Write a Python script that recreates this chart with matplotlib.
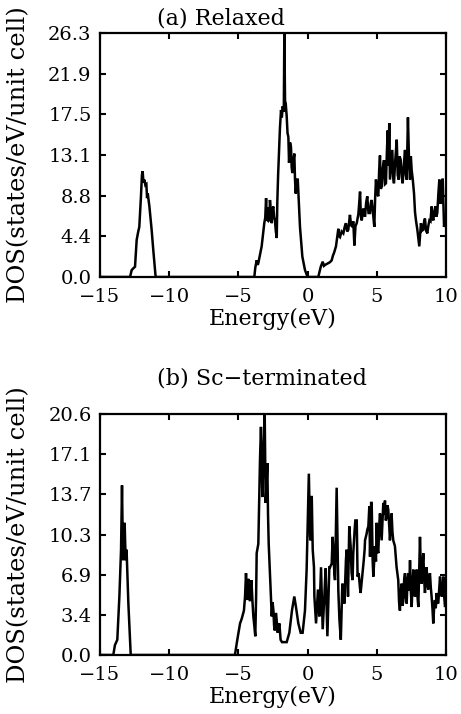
import matplotlib
matplotlib.use("Agg")
import matplotlib.pyplot as plt
import numpy as np

# ---------------- data ----------------
titles = ["(a) Relaxed", "(b) Sc\u2212terminated"]
xticks = [-15, -10, -5, 0, 5, 10]
ymax_a = 26.3
ymax_b = 20.6
ytick_labels_a = ["0.0", "4.4", "8.8", "13.1", "17.5", "21.9", "26.3"]
ytick_labels_b = ["0.0", "3.4", "6.9", "10.3", "13.7", "17.1", "20.6"]

energy_a = [-15, -12.83, -12.71, -12.55, -12.47, -12.35, -12.25, -12.16, -12.04, -11.97, -11.92,
            -11.86, -11.80, -11.72, -11.65, -11.60, -11.55, -11.43, -11.27, -11.15, -10.98,
            -3.85, -3.78, -3.68, -3.60, -3.56, -3.32, -3.13, -3.06, -3.00, -2.95, -2.88, -2.82,
            -2.76, -2.72, -2.65, -2.59, -2.54, -2.48, -2.42, -2.36, -2.30, -2.23, -2.19, -2.13,
            -2.07, -2.00, -1.92, -1.86, -1.80, -1.72, -1.68, -1.63, -1.58, -1.51, -1.45, -1.39,
            -1.34, -1.27, -1.20, -1.15, -1.10, -1.03, -0.96, -0.91, -0.86, -0.78, -0.71, -0.62,
            -0.55, -0.45, -0.38, -0.19, 0.00,
            0.77, 0.95, 1.09, 1.18, 1.26, 1.38, 1.50, 1.62, 1.74, 1.83, 1.91, 2.05, 2.13, 2.22,
            2.28, 2.34, 2.46, 2.58, 2.68, 2.77, 2.86, 2.94, 3.06, 3.14, 3.23, 3.30, 3.38, 3.46,
            3.55, 3.67, 3.79, 3.85, 3.91, 4.03, 4.15, 4.23, 4.31, 4.40, 4.51, 4.57, 4.63, 4.72,
            4.82, 4.88, 4.94, 5.02, 5.11, 5.17, 5.23, 5.29, 5.35, 5.44, 5.52, 5.59, 5.66, 5.73,
            5.79, 5.85, 5.90, 5.95, 6.03, 6.12, 6.18, 6.24, 6.33, 6.44, 6.51, 6.58, 6.65, 6.73,
            6.80, 6.87, 6.95, 7.04, 7.10, 7.16, 7.25, 7.33, 7.40, 7.46, 7.52, 7.60, 7.69, 7.76,
            7.83, 7.93, 8.00, 8.07, 8.13, 8.19, 8.27, 8.36, 8.42, 8.48, 8.56, 8.65, 8.72, 8.80,
            8.88, 8.96, 9.02, 9.08, 9.15, 9.23, 9.30, 9.37, 9.45, 9.52, 9.58, 9.64, 9.70, 9.76,
            9.81, 9.86, 9.93, 10.0]
dos_a = [0, 0, 0.75, 1.0, 1.1, 4.0, 4.8, 5.4, 8.7, 11.0, 11.4,
         10.2, 10.5, 9.9, 10.0, 8.5, 9.0, 7.6, 5.1, 2.9, 0,
         0, 1.0, 1.8, 1.3, 1.5, 3.3, 5.8, 6.4, 8.5, 6.2, 6.1, 7.5,
         6.0, 8.3, 6.9, 5.8, 7.2, 7.6, 6.5, 6.1, 5.0, 4.2, 8.0, 11.0,
         13.3, 16.0, 18.0, 17.2, 18.4, 17.8, 26.3, 19.0, 18.7, 17.3, 15.5, 15.1,
         12.3, 14.5, 14.0, 11.8, 11.2, 12.5, 13.3, 10.5, 9.0, 10.5, 10.5, 7.5,
         5.4, 3.5, 2.2, 0.75, 0,
         0, 1.1, 1.65, 1.2, 1.3, 1.4, 1.5, 1.6, 1.8, 2.3, 2.6, 3.3, 4.2, 5.2,
         4.4, 4.3, 4.9, 4.7, 5.4, 5.8, 4.9, 5.1, 6.7, 5.6, 5.4, 6.0, 3.4, 5.5,
         5.8, 6.8, 9.2, 6.5, 6.1, 7.4, 6.5, 8.0, 8.7, 6.9, 6.9, 8.0, 8.3, 7.0,
         5.4, 8.5, 10.5, 9.0, 8.7, 11.5, 13.1, 9.5, 9.7, 11.8, 12.6, 10.0, 10.1, 13.5,
         15.8, 12.0, 16.6, 10.5, 12.0, 13.7, 10.8, 10.1, 12.5, 14.8, 11.0, 10.5, 13.0, 12.6,
         10.8, 10.1, 12.0, 13.7, 11.0, 10.5, 17.2, 12.5, 10.5, 13.0, 11.5, 10.5, 9.0, 7.0,
         6.1, 5.1, 4.2, 3.3, 4.5, 5.8, 5.0, 5.1, 6.0, 6.3, 5.0, 4.7, 5.5, 6.1,
         6.0, 7.6, 6.5, 6.1, 7.0, 7.6, 6.5, 6.9, 9.0, 10.5, 8.0, 8.0, 9.5, 10.6,
         8.0, 5.4, 6.5, 5.4]

energy_b = [-15, -14.04, -13.92, -13.75, -13.60, -13.48, -13.41, -13.36, -13.32, -13.26, -13.22,
            -13.18, -13.14, -13.08, -12.95, -12.78,
            -5.25, -5.08, -4.88, -4.76, -4.60, -4.52, -4.45, -4.40, -4.36, -4.30, -4.26, -4.20,
            -4.16, -4.10, -4.06, -3.98, -3.92, -3.85, -3.78, -3.72, -3.68, -3.56, -3.50, -3.44,
            -3.37, -3.32, -3.27, -3.20, -3.10, -3.03, -2.97, -2.91, -2.86, -2.81, -2.71, -2.59,
            -2.53, -2.47, -2.42, -2.37, -2.28, -2.16, -2.04, -1.95, -1.85, -1.76, -1.51, -1.32,
            -1.13, -0.96, -0.84, -0.67, -0.50, -0.36, -0.19, -0.07, 0.09, 0.18, 0.22, 0.30,
            0.37, 0.46, 0.49, 0.61, 0.75, 0.85, 0.97, 1.09, 1.21, 1.30, 1.43, 1.50, 1.57, 1.62,
            1.74, 1.81, 1.86, 1.93, 1.98, 2.10, 2.22, 2.30, 2.40, 2.51, 2.58, 2.66, 2.77, 2.82,
            2.92, 3.01, 3.11, 3.18, 3.25, 3.30, 3.40, 3.45, 3.55, 3.61, 3.69, 3.78, 3.83, 3.97,
            4.05, 4.12, 4.15, 4.27, 4.31, 4.39, 4.46, 4.51, 4.59, 4.63, 4.70, 4.75, 4.87, 4.94,
            4.99, 5.05, 5.11, 5.17, 5.23, 5.35, 5.47, 5.53, 5.59, 5.65, 5.71, 5.77, 5.83, 5.90,
            5.95, 6.07, 6.13, 6.19, 6.31, 6.43, 6.55, 6.61, 6.67, 6.74, 6.80, 6.86, 6.92, 6.98,
            7.04, 7.10, 7.16, 7.22, 7.28, 7.34, 7.40, 7.46, 7.52, 7.58, 7.64, 7.70, 7.76, 7.82,
            7.88, 7.94, 8.00, 8.06, 8.12, 8.18, 8.24, 8.30, 8.36, 8.42, 8.48, 8.54, 8.60, 8.66,
            8.72, 8.78, 8.84, 8.90, 8.96, 9.02, 9.08, 9.14, 9.20, 9.26, 9.32, 9.38, 9.44, 9.50,
            9.57, 9.63, 9.69, 9.75, 9.81, 9.87, 9.93, 10.0]
dos_b = [0, 0, 0.85, 1.3, 5.0, 9.0, 14.5, 10.0, 8.1, 10.0, 11.3,
         9.5, 8.1, 9.0, 4.4, 0,
         0, 1.3, 2.7, 3.1, 3.8, 5.0, 7.0, 5.5, 4.7, 6.5, 6.4, 5.0,
         4.6, 6.0, 6.4, 4.5, 3.3, 2.5, 1.6, 5.0, 8.7, 9.5, 13.0, 16.7,
         19.5, 17.0, 13.5, 16.7, 20.6, 13.0, 14.5, 16.4, 12.0, 9.5, 6.7, 3.3,
         4.5, 3.8, 2.5, 2.1, 3.6, 1.9, 2.7, 1.3, 1.1, 1.1, 1.1, 1.9,
         3.8, 5.0, 4.1, 2.7, 1.9, 1.9, 3.8, 7.3, 15.5, 10.1, 9.8, 13.6,
         9.0, 7.5, 5.0, 2.7, 5.6, 3.3, 7.5, 2.2, 5.0, 7.4, 1.6, 4.5, 7.5, 7.5,
         7.8, 10.1, 9.0, 7.0, 6.4, 14.3, 5.5, 3.0, 1.3, 6.1, 5.6, 4.4, 8.1, 9.0,
         5.0, 11.0, 9.3, 7.0, 6.4, 8.7, 10.7, 11.5, 11.5, 6.7, 7.0, 5.8, 5.3, 7.0,
         8.0, 9.0, 9.8, 10.4, 10.7, 11.0, 12.7, 8.4, 13.0, 13.0, 8.1, 6.7, 9.3, 8.0,
         11.3, 9.0, 8.7, 11.0, 12.1, 9.8, 13.0, 12.0, 13.2, 11.5, 11.8, 12.8, 12.4, 11.0,
         9.8, 12.1, 10.5, 9.8, 9.3, 7.5, 6.4, 4.5, 3.8, 5.5, 6.1, 4.2, 4.7, 6.5,
         7.0, 5.0, 4.4, 6.5, 7.0, 5.5, 8.1, 5.5, 4.1, 6.0, 7.3, 5.5, 5.0, 6.5,
         7.3, 5.0, 4.1, 7.0, 10.1, 7.5, 6.1, 7.5, 8.7, 6.5, 5.3, 6.5, 7.5, 6.0,
         5.6, 6.5, 7.0, 5.8, 5.0, 4.0, 2.7, 4.0, 4.7, 4.0, 5.3, 4.5, 4.4, 5.5,
         6.7, 5.5, 5.0, 5.8, 6.7, 5.0, 4.1, 4.5]

# ---------------- plot ----------------
plt.rcParams['font.family'] = ['DejaVu Serif']
W, H = 461, 714
fig = plt.figure(figsize=(W / 100, H / 100), dpi=100)
tick_fs = 14
label_fs = 16
ylabel_fs = 17.5
title_fs = 16

panels = [
    (energy_a, dos_a, ymax_a, ytick_labels_a, titles[0], (100, 33, 446, 277), 19),
    (energy_b, dos_b, ymax_b, ytick_labels_b, titles[1], (100, 414, 446, 655), 378),
]

for ex, dy, ymax, ylabs, title, (x0, y0, x1, y1), ty in panels:
    ax = fig.add_axes([x0 / W, 1 - y1 / H, (x1 - x0) / W, (y1 - y0) / H])
    ax.plot(ex, dy, color='black', lw=1.8, solid_joinstyle='miter')
    ax.set_xlim(-15, 10)
    ax.set_ylim(0, ymax)
    ax.set_xticks(xticks)
    ax.set_yticks(np.linspace(0, ymax, 7))
    ax.set_yticklabels(ylabs)
    ax.tick_params(direction='in', length=4, width=1.5, top=True, right=True,
                   labelsize=tick_fs, pad=6)
    ax.tick_params(axis='x', pad=8)
    for s in ax.spines.values():
        s.set_linewidth(1.6)
    ax.set_xlabel("Energy(eV)", fontsize=label_fs, labelpad=1)
    ax.set_ylabel("DOS(states/eV/unit cell)", fontsize=ylabel_fs)
    ax.yaxis.set_label_coords((30 - x0) / (x1 - x0), 0.5)
    fig.text(157 / W, 1 - ty / H, title, fontsize=title_fs, ha='left', va='center')

fig.savefig("out.png", dpi=100)
